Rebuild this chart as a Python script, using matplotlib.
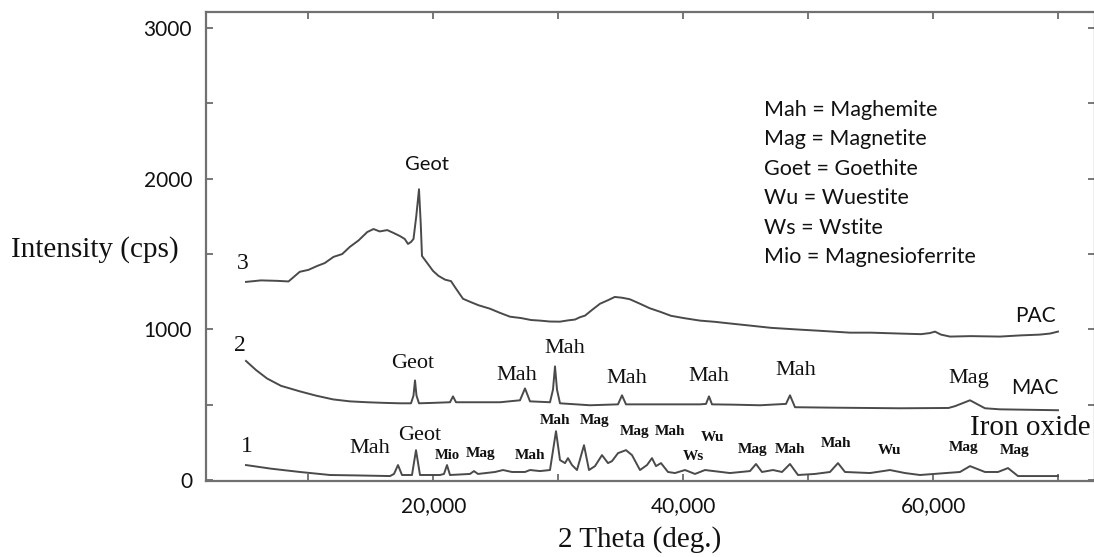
import matplotlib
matplotlib.use("Agg")
import matplotlib.pyplot as plt
from matplotlib.ticker import FixedLocator, FuncFormatter

SERIF = "Liberation Serif"
SANS = "Lato"

# trace 3 (PAC)
pac_x = [5000, 6200, 7500, 8400, 9300, 10000, 10700, 11300, 12000, 12700, 13300, 14000,
         14700, 15200, 15700, 16300, 16800, 17300, 17700, 17960, 18200, 18400, 18620, 18840,
         18980, 19080, 19500, 19960, 20400, 20920, 21400, 21720, 22360, 22920, 23600, 24520,
         25300, 26120, 27000, 27800, 28520, 29300, 30120, 30800, 31320, 31700, 32120, 32700,
         33320, 34000, 34500, 35080, 35700, 36520, 37300, 38120, 39000, 40000, 41320, 42500,
         43600, 45320, 47000, 49320, 51000, 53320, 55000, 57320, 59000, 59700, 60120, 60600,
         61320, 63000, 65320, 67000, 68500, 69320, 69960]
pac_y = [1315, 1325, 1322, 1318, 1382, 1395, 1421, 1440, 1481, 1500, 1547, 1590,
         1646, 1666, 1650, 1659, 1640, 1620, 1600, 1567, 1580, 1600, 1750, 1930,
         1700, 1487, 1440, 1388, 1355, 1330, 1320, 1280, 1203, 1183, 1160, 1137,
         1110, 1084, 1075, 1062, 1058, 1052, 1051, 1060, 1065, 1080, 1091, 1130,
         1170, 1195, 1215, 1210, 1200, 1170, 1140, 1117, 1090, 1075, 1058, 1050,
         1040, 1025, 1010, 998, 990, 978, 978, 972, 968, 975, 985, 965,
         952, 955, 952, 960, 965, 972, 985]

# trace 2 (MAC)
mac_x = [5000, 5800, 6680, 7800, 9320, 10600, 11960, 13300, 14680, 16000, 17320, 18200,
         18400, 18520, 18640, 18840, 20000, 21320, 21560, 21800, 23500, 25320, 26920, 27320,
         27720, 29320, 29560, 29720, 29880, 30120, 32520, 34760, 35080, 35400, 38000, 41320,
         41800, 42040, 42280, 44000, 46120, 48200, 48520, 48920, 52000, 57320, 61200, 61720,
         62920, 64120, 65320, 69960]
mac_y = [790, 730, 674, 625, 588, 560, 535, 522, 516, 512, 509, 509,
         560, 661, 560, 509, 512, 516, 555, 516, 516, 516, 529, 608,
         522, 516, 600, 754, 600, 509, 496, 502, 562, 502, 502, 502,
         505, 555, 502, 500, 496, 505, 562, 483, 480, 476, 478, 490,
         529, 476, 469, 463]

# trace 1 (iron oxide)
iron_x = [5000, 7000, 9320, 11720, 14000, 16520, 16840, 17160, 17480, 18280, 18600, 18920,
          20520, 20840, 21080, 21320, 22920, 23240, 23560, 24920, 25560, 26280, 27320, 27720,
          28520, 29320, 29800, 30120, 30520, 30760, 31080, 31480, 32040, 32440, 32920, 33480,
          33960, 34280, 34760, 35400, 35880, 36520, 37080, 37480, 37800, 38200, 38760, 39320,
          40120, 40920, 41720, 43720, 45320, 45800, 46280, 47160, 47880, 48520, 49160, 50520,
          51720, 52360, 52920, 54920, 56520, 57720, 58920, 62120, 62920, 64120, 65160, 65960,
          66760, 69960]
iron_y = [99, 75, 53, 33, 30, 26, 40, 99, 33, 33, 198, 33,
          33, 40, 99, 33, 40, 59, 40, 53, 66, 53, 53, 66,
          59, 66, 324, 132, 112, 145, 99, 66, 231, 66, 92, 165,
          112, 125, 178, 198, 165, 66, 99, 145, 92, 112, 53, 46,
          66, 40, 66, 46, 59, 106, 53, 66, 53, 106, 33, 40,
          53, 112, 53, 46, 66, 46, 33, 53, 92, 53, 53, 79,
          26, 26]

legend_lines = ["Mah = Maghemite", "Mag = Magnetite", "Goet = Goethite",
                "Wu = Wuestite", "Ws = Wstite", "Mio = Magnesioferrite"]

# (text, x, y, size, family, weight)
peak_labels = [
    ("Geot", 19480, 2095, 14.5, SANS, "normal"),
    ("3", 4760, 1434, 17, SERIF, "normal"),
    ("2", 4520, 892, 17, SERIF, "normal"),
    ("1", 5080, 225, 17, SERIF, "normal"),
    ("Geot", 18360, 773, 16, SERIF, "normal"),
    ("Mah", 26680, 694, 16, SERIF, "normal"),
    ("Mah", 30520, 873, 16, SERIF, "normal"),
    ("Mah", 35480, 674, 16, SERIF, "normal"),
    ("Mah", 42040, 687, 16, SERIF, "normal"),
    ("Mah", 49000, 727, 16, SERIF, "normal"),
    ("Mag", 62840, 674, 16, SERIF, "normal"),
    ("MAC", 68120, 608, 15, SANS, "normal"),
    ("PAC", 68120, 1091, 15, SANS, "normal"),
    ("Iron oxide", 67720, 344, 21, SERIF, "normal"),
    ("Mah", 14920, 212, 16, SERIF, "normal"),
    ("Geot", 18920, 297, 16, SERIF, "normal"),
    ("Mio", 21080, 165, 10.5, SERIF, "bold"),
    ("Mag", 23800, 178, 11, SERIF, "bold"),
    ("Mah", 27720, 165, 11, SERIF, "bold"),
    ("Mah", 29720, 397, 11, SERIF, "bold"),
    ("Mag", 32920, 397, 11, SERIF, "bold"),
    ("Mag", 36120, 324, 11, SERIF, "bold"),
    ("Mah", 38920, 324, 11, SERIF, "bold"),
    ("Ws", 40760, 159, 11, SERIF, "bold"),
    ("Wu", 42360, 284, 11, SERIF, "bold"),
    ("Mag", 45560, 205, 11, SERIF, "bold"),
    ("Mah", 48520, 205, 11, SERIF, "bold"),
    ("Mah", 52200, 245, 11, SERIF, "bold"),
    ("Wu", 56520, 198, 11, SERIF, "bold"),
    ("Mag", 62440, 218, 11, SERIF, "bold"),
    ("Mag", 66520, 198, 11, SERIF, "bold"),
]

fig = plt.figure(figsize=(10.94, 5.57), dpi=100)
ax = fig.add_axes([0.1883, 0.1364, 0.8126, 0.8421])

line_color = "#4a4a4a"
for xs, ys in [(pac_x, pac_y), (mac_x, mac_y), (iron_x, iron_y)]:
    ax.plot(xs, ys, color=line_color, lw=1.4)

ax.set_xlim(1800, 72920)
ax.set_ylim(-7, 3107)

for s in ax.spines.values():
    s.set_color("#707070")
    s.set_linewidth(1.6)

ax.xaxis.set_major_locator(FixedLocator([20000, 40000, 60000]))
ax.xaxis.set_minor_locator(FixedLocator([10000, 30000, 50000, 70000]))
ax.xaxis.set_major_formatter(FuncFormatter(lambda v, p: f"{v:,.0f}"))
ax.yaxis.set_major_locator(FixedLocator([0, 1000, 2000, 3000]))
ax.yaxis.set_minor_locator(FixedLocator([500, 1500, 2500]))

ax.tick_params(which="both", direction="in", top=True, right=True, length=5,
               width=1.2, color="#606060")
ax.tick_params(axis="x", which="major", pad=11)
ax.tick_params(axis="y", which="major", pad=10)
for lab in ax.get_xticklabels() + ax.get_yticklabels():
    lab.set_fontfamily(SANS)
    lab.set_fontsize(15)
    lab.set_color("#111111")

for txt, x, y, size, fam, w in peak_labels:
    ax.text(x, y, txt, fontsize=size, family=fam, weight=w, color="#111111",
            ha="center", va="center")

for i, line in enumerate(legend_lines):
    fig.text(764 / 1094, 1 - (110 + i * 29.4) / 557, line, fontsize=15.5,
             family=SANS, color="#111111", ha="left", va="center")

fig.text(95 / 1094, 1 - 250 / 557, "Intensity (cps)", fontsize=21, family=SERIF,
         color="#111111", ha="center", va="center")
fig.text(640 / 1094, 1 - 540 / 557, "2 Theta (deg.)", fontsize=21, family=SERIF,
         color="#111111", ha="center", va="center")

fig.savefig("out.png", dpi=100)
